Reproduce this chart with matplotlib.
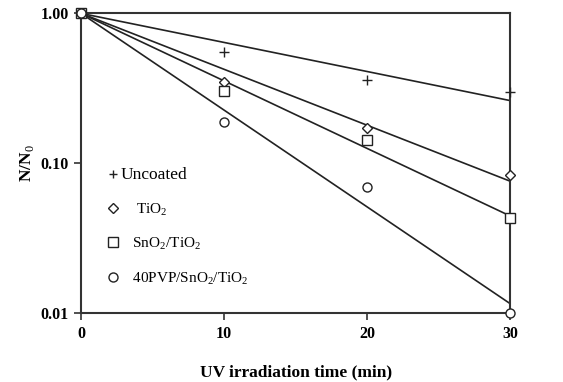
import numpy as np
import matplotlib
matplotlib.use("Agg")
import matplotlib.pyplot as plt
from matplotlib.lines import Line2D

# Data
time_min = [0, 10, 20, 30]
uncoated = [1.0, 0.555, 0.359, 0.300]
tio2 = [1.0, 0.350, 0.173, 0.083]
sno2_tio2 = [1.0, 0.305, 0.143, 0.043]
pvp_sno2_tio2 = [1.0, 0.189, 0.070, 0.010]

series_labels = ["Uncoated", "    TiO$_2$", "   SnO$_2$/TiO$_2$", "   40PVP/SnO$_2$/TiO$_2$"]
series_markers = ["+", "D", "s", "o"]
x_ticks = [0, 10, 20, 30]
y_ticks = [0.01, 0.1, 1.0]
y_ticklabels = ["0.01", "0.10", "1.00"]

plt.rcParams['font.family'] = ['Liberation Serif', 'DejaVu Serif']
plt.rcParams['mathtext.fontset'] = 'custom'
plt.rcParams['mathtext.rm'] = 'Liberation Serif'
plt.rcParams['mathtext.bf'] = 'Liberation Serif:bold'

fig = plt.figure(figsize=(5.63, 3.82), dpi=100)
ax = fig.add_axes([0.144, 0.180, 0.762, 0.785])

t = np.array(time_min, dtype=float)
tfit = np.linspace(0, 30, 100)
col = '#222222'
handles = []
for vals, lab, mk in zip([uncoated, tio2, sno2_tio2, pvp_sno2_tio2], series_labels, series_markers):
    y = np.log10(np.array(vals))
    k = np.sum(t * y) / np.sum(t * t)  # exponential fit through origin
    ax.plot(tfit, 10 ** (k * tfit), color=col, lw=1.2)
    if mk == '+':
        ax.plot(t, vals, linestyle='none', marker=mk, ms=7, mew=1.0, color=col, clip_on=False, zorder=3)
        h = Line2D([], [], linestyle='none', marker=mk, ms=6, mew=1.0, color=col)
    else:
        ms = 5 if mk == 'D' else 6.5
        ax.plot(t, vals, linestyle='none', marker=mk, ms=ms, mew=1.0, mfc='white', mec=col, clip_on=False, zorder=3)
        h = Line2D([], [], linestyle='none', marker=mk, ms=ms, mew=1.0, mfc='white', mec=col)
    handles.append(h)

ax.set_yscale('log')
ax.set_xlim(0, 30)
ax.set_ylim(0.01, 1.0)
ax.set_xticks(x_ticks)
ax.set_xticklabels([str(v) for v in x_ticks], fontweight='bold', fontsize=11.5)
ax.set_yticks(y_ticks)
ax.set_yticklabels(y_ticklabels, fontweight='bold', fontsize=11.5)
ax.yaxis.set_minor_locator(matplotlib.ticker.NullLocator())
ax.tick_params(axis='both', direction='out', length=5, width=1.2, color='#333333', pad=4)
for s in ax.spines.values():
    s.set_linewidth(1.5)
    s.set_color('#333333')

ax.set_xlabel("UV irradiation time (min)", fontweight='bold', fontsize=12.5, labelpad=16)
ax.set_ylabel("N/N$_0$", fontweight='bold', fontsize=12.5, labelpad=3)

leg = ax.legend(handles, series_labels, loc='upper left', bbox_to_anchor=(0.043, 0.508),
                frameon=False, fontsize=11, handletextpad=0.0, labelspacing=1.17,
                handlelength=1.0, borderaxespad=0)
leg.get_texts()[0].set_fontsize(12.5)

fig.savefig("out.png", dpi=100)
